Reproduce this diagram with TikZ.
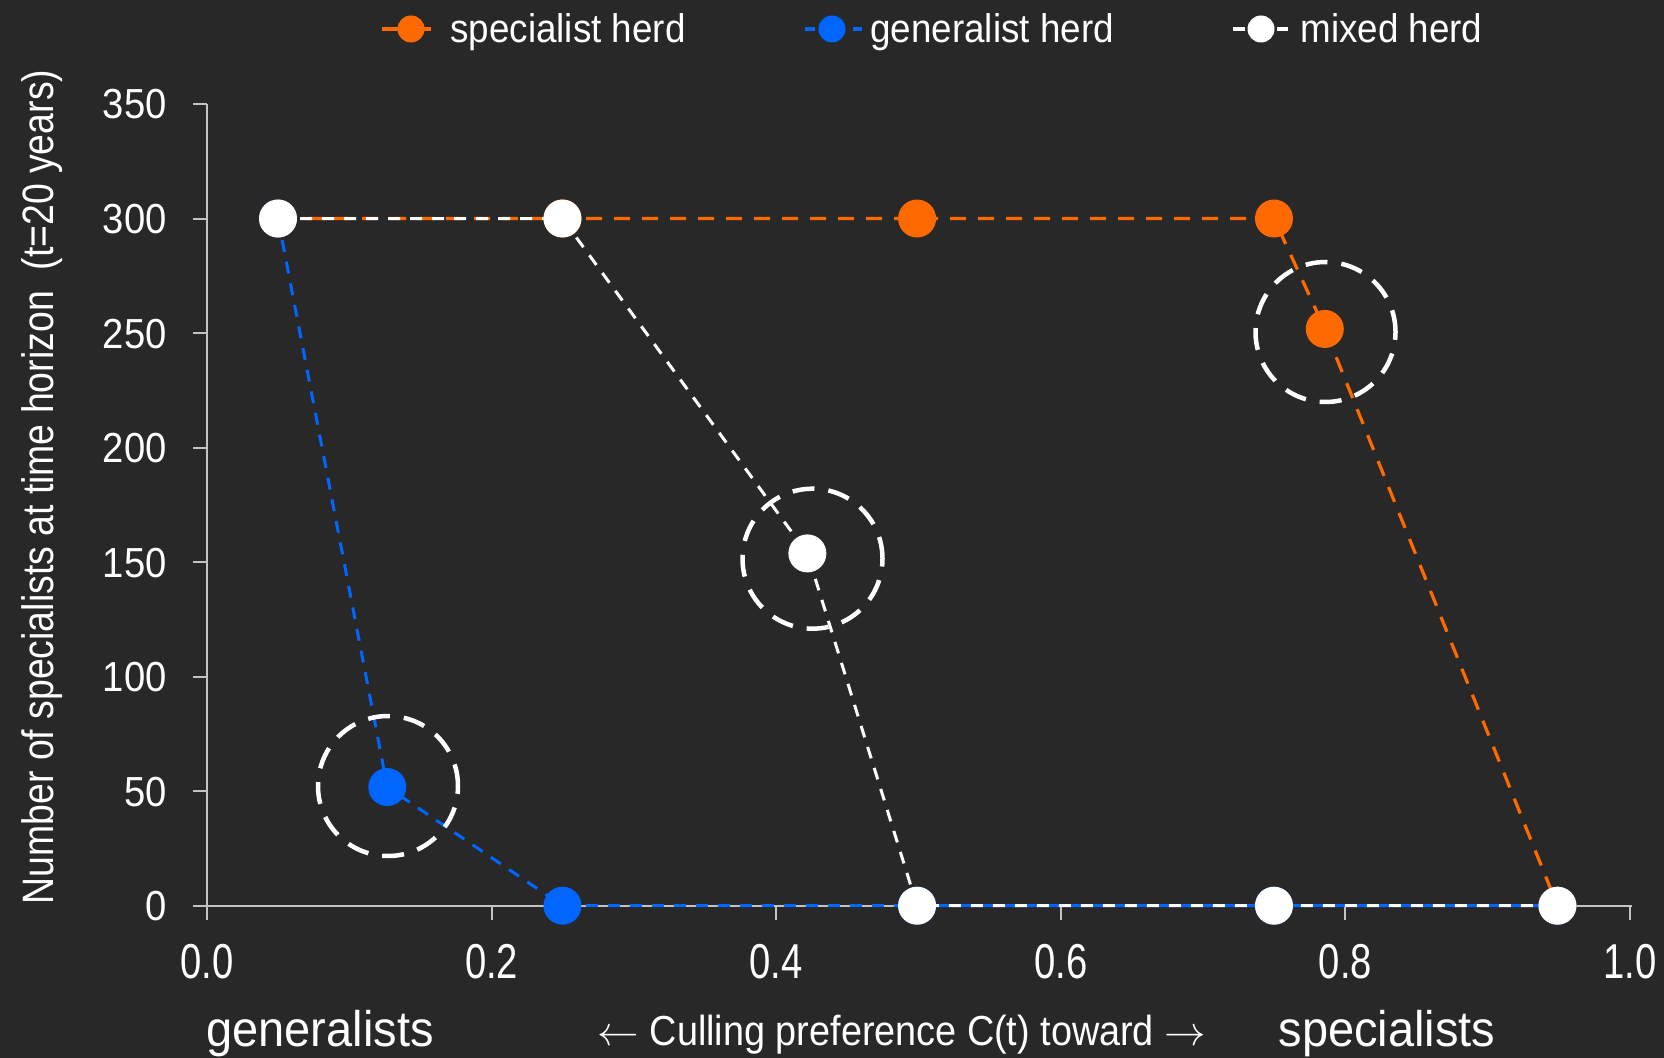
\documentclass[tikz,border=0pt]{standalone}
\usepackage{fontspec}
\setmainfont{Liberation Sans}
\newfontfamily\legfont[FakeStretch=0.92]{Liberation Sans}
\newfontfamily\ytickfont[FakeStretch=0.91]{Liberation Sans}
\newfontfamily\xtickfont[FakeStretch=0.78]{Liberation Sans}
\newfontfamily\ylabfont[FakeStretch=0.85]{Liberation Sans}
\newfontfamily\endfont[FakeStretch=0.94]{Liberation Sans}
\newfontfamily\culfont[FakeStretch=0.9]{Liberation Sans}
\definecolor{bgc}{RGB}{40,40,40}
\definecolor{axisgray}{RGB}{195,195,195}
\definecolor{sorange}{RGB}{255,106,0}
\definecolor{gblue}{RGB}{0,102,255}
\begin{document}
\begin{tikzpicture}[x=0.5pt,y=-0.5pt,
  axisline/.style={draw=axisgray,line width=1pt},
  ytick/.style={text=white,inner sep=0pt,font=\ytickfont\fontsize{21pt}{24pt}\selectfont},
  xtick/.style={text=white,inner sep=0pt,font=\xtickfont\fontsize{24.5pt}{28pt}\selectfont},
  legtext/.style={text=white,inner sep=0pt,anchor=base west,font=\legfont\fontsize{20pt}{24pt}\selectfont},
  endtext/.style={text=white,inner sep=0pt,anchor=base,font=\endfont\fontsize{25pt}{30pt}\selectfont},
  dotmark/.style={circle,inner sep=0pt,minimum size=19pt},
  omark/.style={dotmark,fill=sorange},
  bmark/.style={dotmark,fill=gblue},
  wmark/.style={dotmark,fill=white},
  lmark/.style={circle,inner sep=0pt,minimum size=13.5pt},
  oline/.style={draw=sorange,line width=1.6pt,dash pattern=on 8pt off 6pt},
  bline/.style={draw=gblue,line width=1.5pt,dash pattern=on 6pt off 5pt},
  wline/.style={draw=white,line width=1.5pt,dash pattern=on 6pt off 5pt,dash phase=0pt},
  legline/.style={line width=2pt},
  hl/.style={circle,draw=white,line width=2.25pt,dash pattern=on 11pt off 7pt,minimum size=70pt,inner sep=0pt}
]
\fill[bgc] (0,0) rectangle (1664,1058);
\useasboundingbox (0,0) rectangle (1664,1058);

% axes
\draw[axisline] (207,104) -- (207,920);
\draw[axisline] (193,905.7) -- (1632,905.7);
\foreach \i in {1,...,5} \draw[axisline] ({207+284.6*\i},905.7) -- ++(0,14);
\foreach \n in {50,100,...,350} \draw[axisline] (193,{905.7-2.2906*\n}) -- (207,{905.7-2.2906*\n});

% tick labels
\foreach \n in {0,50,...,350} \node[ytick,anchor=base east] (yl\n) at (167,{905.7-2.2906*\n+15}) {\n};
\foreach \i/\t in {0/0.0,1/0.2,2/0.4,3/0.6,4/0.8,5/1.0} \node[xtick,anchor=base] (xl\i) at ({207+284.6*\i},978) {\t};

% axis titles
\node[rotate=90,anchor=base,inner sep=0pt,text=white,font=\ylabfont\fontsize{22pt}{26pt}\selectfont] (ylab) at (53,487) {Number of specialists at time horizon\ \ (t=20 years)};
\node[endtext] (gen) at (320,1046) {generalists};
\node[endtext] (spec) at (1387,1046) {specialists};
\node[text=white,inner sep=0pt,anchor=base,font=\culfont\fontsize{21pt}{25pt}\selectfont] (cull) at (902,1045) {$\leftarrow$ Culling preference C(t) toward $\rightarrow$};

% data points
\begin{scope}[shift={(207,905.7)},x=711.5pt,y=1.1453pt]
  \coordinate (pA) at (0.0499,300);
  \coordinate (pB) at (0.2498,300);
  \coordinate (pC) at (0.499,300);
  \coordinate (pD) at (0.7498,300);
  \coordinate (pE) at (0.7855,251.8);
  \coordinate (pF) at (0.949,0);
  \coordinate (pG) at (0.1267,51.8);
  \coordinate (pH) at (0.2498,0);
  \coordinate (pI) at (0.499,0);
  \coordinate (pJ) at (0.7498,0);
  \coordinate (pK) at (0.4219,153.8);
\end{scope}

% series lines
\draw[oline] (pA) -- (pB) -- (pC) -- (pD) -- (pE) -- (pF);
\draw[bline] (pA) -- (pG) -- (pH) -- (pI) -- (pJ) -- (pF);
\draw[wline] (pA) -- (pB) -- (pK) -- (pI) -- (pJ) -- (pF);

% markers
\node[omark] (oA) at (pA) {};
\node[omark] (oB) at (pB) {};
\node[omark] (oC) at (pC) {};
\node[omark] (oD) at (pD) {};
\node[omark] (oE) at (pE) {};
\node[omark] (oF) at (pF) {};
\node[bmark] (bA) at (pA) {};
\node[bmark] (bG) at (pG) {};
\node[bmark] (bH) at (pH) {};
\node[bmark] (bI) at (pI) {};
\node[bmark] (bJ) at (pJ) {};
\node[bmark] (bF) at (pF) {};
\node[wmark] (wA) at (pA) {};
\node[wmark] (wB) at (pB) {};
\node[wmark] (wK) at (pK) {};
\node[wmark] (wI) at (pI) {};
\node[wmark] (wJ) at (pJ) {};
\node[wmark] (wF) at (pF) {};

% highlight circles
\node[hl] (h1) at (388,786) {};
\node[hl] (h2) at (812.5,558.7) {};
\node[hl] (h3) at (1325.5,332) {};

% legend
\coordinate (l1a) at (382,29);
\coordinate (l1b) at (431,29);
\draw[legline,sorange] (l1a) -- (l1b);
\node[lmark,fill=sorange] (lm1) at (411,29) {};
\node[legtext] (lt1) at (450,42.3) {specialist herd};

\coordinate (l2a) at (805,29);
\coordinate (l2b) at (862,29);
\draw[legline,gblue,dash pattern=on 5pt off 19pt] (l2a) -- (l2b);
\node[lmark,fill=gblue] (lm2) at (832,29) {};
\node[legtext] (lt2) at (870,42.3) {generalist herd};

\coordinate (l3a) at (1233,29);
\coordinate (l3b) at (1288,29);
\draw[legline,white,dash pattern=on 6pt off 16pt] (l3a) -- (l3b);
\node[lmark,fill=white] (lm3) at (1261,29) {};
\node[legtext] (lt3) at (1300,42.3) {mixed herd};
\end{tikzpicture}
\end{document}
